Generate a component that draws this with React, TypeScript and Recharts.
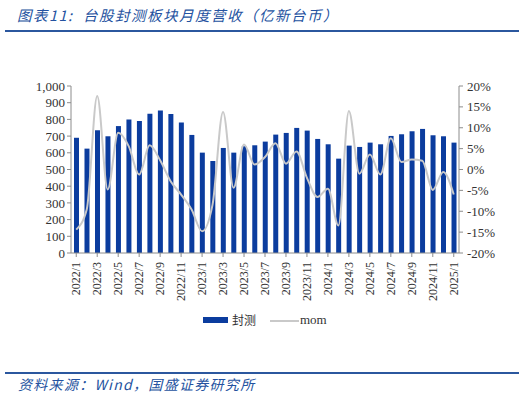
import React from "react";
import { ComposedChart, Bar, Line, XAxis, YAxis, Legend } from "recharts";

const months: string[] = [
  "2022/1","2022/2","2022/3","2022/4","2022/5","2022/6","2022/7","2022/8","2022/9","2022/10","2022/11","2022/12",
  "2023/1","2023/2","2023/3","2023/4","2023/5","2023/6","2023/7","2023/8","2023/9","2023/10","2023/11","2023/12",
  "2024/1","2024/2","2024/3","2024/4","2024/5","2024/6","2024/7","2024/8","2024/9","2024/10","2024/11","2024/12",
  "2025/1",
];
const revenue: number[] = [
  690, 625, 735, 699, 760, 800, 790, 834, 854, 832, 782, 707,
  601, 551, 629, 601, 639, 645, 667, 709, 719, 749, 733, 683,
  651, 565, 643, 635, 661, 651, 701, 711, 729, 743, 705, 699,
  661,
];
const mom: number[] = [
  -14.4, -9.6, 17.6, -4.8, 8.8, 5.6, -1.2, 5.8, 2.2, -2.8, -6.0, -9.6,
  -14.8, -8.4, 13.8, -4.4, 6.0, 1.2, 3.0, 6.3, 1.4, 4.3, -2.0, -6.6,
  -4.6, -13.4, 14.0, -1.0, 3.6, -1.2, 7.5, 1.8, 2.4, 2.1, -4.9, -0.6,
  -6.0,
];
const leftTicks: number[] = [0, 100, 200, 300, 400, 500, 600, 700, 800, 900, 1000];
const rightTicks: number[] = [-20, -15, -10, -5, 0, 5, 10, 15, 20];

const data = months.map((m, i) => ({ month: m, rev: revenue[i], mom: mom[i] }));

const SERIF = '"Liberation Serif", "Times New Roman", serif';
const CJK = '"Noto Sans CJK SC", sans-serif';
const BAR = "#0B3C9E";
const LINE = "#C9C9C9";
const AXIS = "#8C8C8C";
const TXT = "#333333";

const XTick = (props: any) => {
  const { x, y, payload } = props;
  return (
    <text
      x={0}
      y={0}
      transform={`translate(${x + 4},${y + 3}) rotate(-90)`}
      textAnchor="end"
      fontFamily={SERIF}
      fontSize={12}
      fill={TXT}
    >
      {payload.value}
    </text>
  );
};

const LegendContent = () => (
  <div style={{ position: "relative", height: 18, fontSize: 12, color: TXT }}>
    <span style={{ position: "absolute", left: 203, top: 6, width: 25, height: 6, background: BAR }} />
    <span style={{ position: "absolute", left: 232, top: 0, fontFamily: CJK, lineHeight: "18px" }}>封测</span>
    <span style={{ position: "absolute", left: 270, top: 9, width: 29, height: 2, background: LINE }} />
    <span style={{ position: "absolute", left: 300, top: 0, fontFamily: SERIF, fontSize: 13, lineHeight: "18px" }}>mom</span>
  </div>
);

export default function App() {
  return (
    <div style={{ position: "absolute", left: 0, top: 0, width: 526, height: 398, background: "#fff", overflow: "hidden" }}>
      <div
        style={{
          position: "absolute",
          left: 17,
          top: 5,
          fontFamily: CJK,
          fontStyle: "italic",
          fontSize: 14.5,
          letterSpacing: 1.5,
          lineHeight: "20px",
          color: "#2452A0",
          whiteSpace: "pre",
        }}
      >
        {"图表11:  台股封测板块月度营收（亿新台币）"}
      </div>
      <div style={{ position: "absolute", left: 5, top: 30, width: 514, height: 2, background: "#2B579E" }} />
      <div style={{ position: "absolute", left: 0, top: 0 }}>
        <ComposedChart
          width={526}
          height={398}
          data={data}
          margin={{ top: 86, right: 5, left: 0, bottom: 95 }}
        >
          <XAxis
            dataKey="month"
            interval={1}
            tick={<XTick />}
            tickLine={{ stroke: AXIS }}
            tickSize={4}
            axisLine={{ stroke: AXIS }}
            height={50}
          />
          <YAxis
            yAxisId="left"
            domain={[0, 1000]}
            ticks={leftTicks}
            interval={0}
            width={71}
            tickSize={4}
            tickLine={{ stroke: AXIS }}
            axisLine={{ stroke: AXIS }}
            tickFormatter={(v: number) => v.toLocaleString("en-US")}
            tick={{ fontFamily: SERIF, fontSize: 13, fill: TXT }}
          />
          <YAxis
            yAxisId="right"
            orientation="right"
            domain={[-20, 20]}
            ticks={rightTicks}
            interval={0}
            width={62}
            tickSize={4}
            tickLine={{ stroke: AXIS }}
            axisLine={{ stroke: AXIS }}
            tickFormatter={(v: number) => `${v}%`}
            tick={{ fontFamily: SERIF, fontSize: 13, fill: TXT, dx: 2 }}
          />
          <Bar yAxisId="left" dataKey="rev" fill={BAR} barSize={5} isAnimationActive={false} />
          <Line
            yAxisId="right"
            dataKey="mom"
            type="monotone"
            stroke={LINE}
            strokeWidth={2}
            dot={false}
            activeDot={false}
            isAnimationActive={false}
          />
          <Legend
            layout="horizontal"
            verticalAlign="middle"
            align="center"
            content={<LegendContent />}
            wrapperStyle={{ top: 311, left: 0, width: 526, height: 18 }}
          />
        </ComposedChart>
      </div>
      <div style={{ position: "absolute", left: 5, top: 372, width: 514, height: 2, background: "#2B579E" }} />
      <div
        style={{
          position: "absolute",
          left: 18,
          top: 375,
          fontFamily: CJK,
          fontStyle: "italic",
          fontSize: 14,
          letterSpacing: 1.3,
          lineHeight: "18px",
          color: "#2452A0",
          whiteSpace: "nowrap",
        }}
      >
        资料来源：Wind，国盛证券研究所
      </div>
    </div>
  );
}
